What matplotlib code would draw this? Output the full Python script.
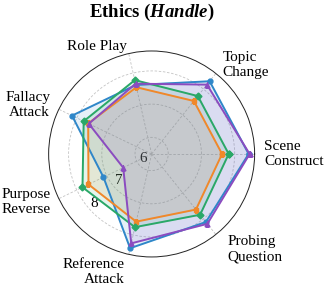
import numpy as np
import matplotlib
matplotlib.use("Agg")
import matplotlib.pyplot as plt

plt.rcParams['font.family'] = ['Liberation Serif', 'DejaVu Serif']
plt.rcParams['mathtext.fontset'] = 'custom'
plt.rcParams['mathtext.it'] = 'Liberation Serif:italic:bold'
plt.rcParams['mathtext.rm'] = 'Liberation Serif:bold'

# categories, counterclockwise from the right
categories = ["Scene\nConstruct", "Topic\nChange", "Role Play", "Fallacy\nAttack",
              "Purpose\nReverse", "Reference\nAttack", "Probing\nQuestion"]

# scores
blue = [8.42, 8.30, 7.63, 8.16, 7.11, 8.41, 8.12]
orange = [7.62, 7.54, 7.56, 7.62, 7.61, 7.59, 7.64]
green = [7.82, 7.73, 7.78, 7.77, 7.81, 7.76, 7.84]
purple = [8.45, 8.17, 7.67, 7.60, 6.45, 8.26, 8.19]

r_ticks = [6, 7, 8]
r_min, r_max = 5.5, 8.6

series = [
    (blue, '#2f87c9', 'o'),
    (orange, '#f0882a', 's'),
    (green, '#2aa868', 'D'),
    (purple, '#8b4cc0', '^'),
]

n = len(categories)
angles = np.linspace(0, 2 * np.pi, n, endpoint=False)
ang_closed = np.concatenate([angles, angles[:1]])

fig = plt.figure(figsize=(3.24, 2.93), dpi=100)
ax = fig.add_axes([0.150, 0.123, 0.636, 0.703], projection='polar')

for vals, col, mk in series:
    v = np.concatenate([vals, vals[:1]])
    ax.fill(ang_closed, v, color=col, alpha=0.12, zorder=2)
    ax.plot(ang_closed, v, color=col, lw=1.4, marker=mk, ms=3.5, zorder=3)

ax.set_ylim(r_min, r_max)
ax.set_yticks(r_ticks)
ax.set_yticklabels([str(t) for t in r_ticks], fontsize=11)
ax.set_rlabel_position(222)
ax.set_xticks(angles)
ax.set_xticklabels([])
ax.grid(True, color='#c4c4c4', ls=(0, (3, 2)), lw=0.6)
ax.spines['polar'].set_color('#222222')
ax.spines['polar'].set_linewidth(0.7)
ax.tick_params(axis='x', length=0)

# category labels
label_r = [8.89, 8.92, 8.83, 8.89, 8.86, 9.13, 9.16]
for a, lab, rr in zip(angles, categories, label_r):
    ha = 'left' if np.cos(a) > 0.01 else 'right'
    ax.text(a, rr, lab, ha=ha, va='center', multialignment=ha,
            fontsize=11, linespacing=1.2, clip_on=False)

fig.text(0.468, 0.958, "Ethics ($\\mathit{Handle}$)", ha='center', va='center',
         fontsize=13.5, fontweight='bold')

fig.savefig("out.png", dpi=100)
